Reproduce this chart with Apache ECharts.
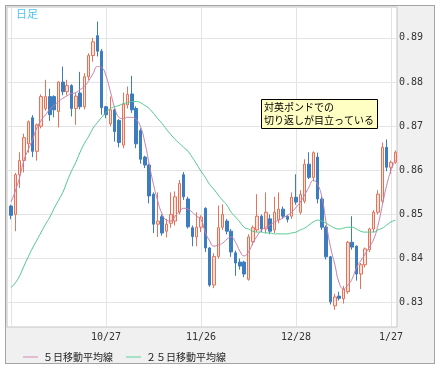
<!DOCTYPE html>
<html>
<head>
<meta charset="utf-8">
<script src="https://cdn.jsdelivr.net/npm/echarts@6/dist/echarts.min.js"></script>
<style>
html,body{margin:0;padding:0;background:#fff;}
#wrap{position:relative;width:446px;height:374px;}
#frame{position:absolute;left:4.5px;top:4.5px;width:428px;height:357px;background:#f0f0f0;border:1.5px solid #a3a3a3;}
#chart{position:absolute;left:0;top:0;width:446px;height:374px;}
</style>
</head>
<body>
<div id="wrap"><div id="frame"></div><div id="chart"></div></div>
<script>
const dates = ["9/25","9/28","9/29","9/30","10/1","10/2","10/5","10/6","10/7","10/8","10/9","10/12","10/13","10/14","10/15","10/16","10/19","10/20","10/21","10/22","10/23","10/26","10/27","10/28","10/29","10/30","11/2","11/3","11/4","11/5","11/6","11/9","11/10","11/11","11/12","11/13","11/16","11/17","11/18","11/19","11/20","11/23","11/24","11/25","11/26","11/27","11/30","12/1","12/2","12/3","12/4","12/7","12/8","12/9","12/10","12/11","12/14","12/15","12/16","12/17","12/18","12/21","12/22","12/23","12/24","12/25","12/28","12/29","12/30","12/31","1/1","1/4","1/5","1/6","1/7","1/8","1/11","1/12","1/13","1/14","1/15","1/18","1/19","1/20","1/21","1/22","1/25","1/26","1/27","1/28"];
const gridDates = ["9/25","10/27","11/26","12/28","1/27"];
const labelDates = ["10/27","11/26","12/28","1/27"];
const yTicks = [0.83,0.84,0.85,0.86,0.87,0.88,0.89];

const open = [0.8519,0.8500,0.8590,0.8622,0.8660,0.8719,0.8643,0.8700,0.8740,0.8767,
0.8767,0.8733,0.8800,0.8778,0.8792,0.8740,0.8775,0.8744,0.8812,0.8860,
0.8905,0.8870,0.8744,0.8705,0.8737,0.8713,0.8657,0.8748,0.8773,0.8740,
0.8690,0.8630,0.8612,0.8546,0.8478,0.8495,0.8462,0.8480,0.8485,0.8505,
0.8590,0.8535,0.8470,0.8449,0.8471,0.8514,0.8424,0.8340,0.8405,0.8471,
0.8485,0.8462,0.8413,0.8392,0.8392,0.8353,0.8438,0.8465,0.8496,0.8467,
0.8490,0.8465,0.8488,0.8512,0.8496,0.8496,0.8539,0.8505,0.8530,0.8614,
0.8584,0.8630,0.8535,0.8471,0.8404,0.8293,0.8315,0.8309,0.8325,0.8437,
0.8428,0.8365,0.8386,0.8420,0.8467,0.8505,0.8530,0.8652,0.8607,0.8618];
const close = [0.8498,0.8590,0.8622,0.8674,0.8710,0.8643,0.8703,0.8767,0.8767,0.8726,
0.8737,0.8800,0.8778,0.8792,0.8740,0.8768,0.8744,0.8812,0.8860,0.8891,
0.8870,0.8742,0.8726,0.8737,0.8688,0.8663,0.8750,0.8772,0.8737,0.8660,
0.8625,0.8612,0.8542,0.8478,0.8485,0.8458,0.8478,0.8500,0.8540,0.8570,
0.8540,0.8472,0.8450,0.8471,0.8494,0.8424,0.8340,0.8405,0.8470,0.8500,
0.8462,0.8415,0.8390,0.8383,0.8365,0.8449,0.8470,0.8496,0.8467,0.8505,
0.8462,0.8505,0.8512,0.8496,0.8489,0.8539,0.8528,0.8545,0.8614,0.8584,
0.8640,0.8535,0.8471,0.8404,0.8302,0.8313,0.8310,0.8331,0.8437,0.8426,
0.8365,0.8386,0.8422,0.8467,0.8505,0.8546,0.8652,0.8607,0.8618,0.8641];
const low = [0.8489,0.8462,0.8560,0.8595,0.8640,0.8630,0.8622,0.8695,0.8735,0.8712,
0.8720,0.8697,0.8770,0.8770,0.8722,0.8703,0.8738,0.8738,0.8805,0.8846,
0.8858,0.8726,0.8718,0.8700,0.8665,0.8652,0.8650,0.8740,0.8730,0.8650,
0.8615,0.8605,0.8525,0.8458,0.8449,0.8452,0.8448,0.8470,0.8475,0.8500,
0.8533,0.8468,0.8428,0.8428,0.8460,0.8415,0.8336,0.8333,0.8400,0.8465,
0.8455,0.8404,0.8361,0.8375,0.8358,0.8350,0.8430,0.8460,0.8460,0.8458,
0.8455,0.8458,0.8480,0.8490,0.8482,0.8490,0.8522,0.8500,0.8525,0.8580,
0.8575,0.8525,0.8465,0.8398,0.8296,0.8284,0.8305,0.8298,0.8320,0.8420,
0.8350,0.8331,0.8380,0.8415,0.8460,0.8500,0.8525,0.8598,0.8592,0.8615];
const high = [0.8522,0.8594,0.8641,0.8683,0.8713,0.8725,0.8706,0.8772,0.8805,0.8785,
0.8770,0.8802,0.8835,0.8805,0.8795,0.8775,0.8823,0.8820,0.8865,0.8900,
0.8937,0.8875,0.8746,0.8767,0.8740,0.8716,0.8776,0.8790,0.8814,0.8745,
0.8695,0.8633,0.8615,0.8550,0.8550,0.8500,0.8490,0.8550,0.8552,0.8578,
0.8596,0.8540,0.8475,0.8505,0.8498,0.8516,0.8426,0.8412,0.8520,0.8523,
0.8490,0.8467,0.8418,0.8400,0.8395,0.8455,0.8475,0.8546,0.8500,0.8550,
0.8500,0.8540,0.8550,0.8518,0.8498,0.8550,0.8591,0.8555,0.8625,0.8641,
0.8643,0.8640,0.8540,0.8475,0.8406,0.8320,0.8325,0.8338,0.8440,0.8496,
0.8430,0.8390,0.8425,0.8470,0.8510,0.8555,0.8663,0.8670,0.8622,0.8645];
const ma5 = [0.8528,0.8553,0.8584,0.8623,0.8647,0.8670,0.8697,0.8713,0.8726,0.8738,
0.8747,0.8756,0.8763,0.8769,0.8774,0.8776,0.8783,0.8790,0.8803,0.8819,
0.8835,0.8833,0.8814,0.8779,0.8742,0.8720,0.8717,0.8720,0.8720,0.8715,
0.8699,0.8663,0.8614,0.8568,0.8530,0.8501,0.8487,0.8485,0.8496,0.8507,
0.8514,0.8512,0.8505,0.8496,0.8489,0.8460,0.8440,0.8428,0.8431,0.8435,
0.8444,0.8449,0.8437,0.8417,0.8406,0.8415,0.8435,0.8451,0.8465,0.8471,
0.8476,0.8483,0.8487,0.8492,0.8498,0.8505,0.8516,0.8528,0.8544,0.8562,
0.8577,0.8568,0.8539,0.8480,0.8426,0.8386,0.8345,0.8331,0.8340,0.8354,
0.8379,0.8395,0.8410,0.8426,0.8444,0.8476,0.8521,0.8566,0.8600,0.8623];
const ma25 = [0.8334,0.8345,0.8361,0.8383,0.8404,0.8424,0.8442,0.8460,0.8478,0.8494,
0.8514,0.8532,0.8550,0.8575,0.8598,0.8618,0.8641,0.8661,0.8677,0.8695,
0.8708,0.8720,0.8731,0.8740,0.8744,0.8747,0.8751,0.8753,0.8756,0.8756,
0.8753,0.8747,0.8740,0.8729,0.8717,0.8706,0.8693,0.8681,0.8670,0.8661,
0.8652,0.8643,0.8629,0.8614,0.8598,0.8584,0.8568,0.8557,0.8544,0.8532,
0.8521,0.8505,0.8494,0.8483,0.8471,0.8467,0.8462,0.8460,0.8460,0.8458,
0.8458,0.8456,0.8456,0.8456,0.8456,0.8458,0.8460,0.8465,0.8469,0.8476,
0.8483,0.8487,0.8485,0.8480,0.8474,0.8469,0.8467,0.8469,0.8471,0.8471,
0.8467,0.8462,0.8460,0.8460,0.8460,0.8465,0.8469,0.8476,0.8483,0.8487];

const candleData = dates.map((d, i) => [i, open[i], close[i], low[i], high[i]]);
const ma5Data = dates.map((d, i) => [i, ma5[i]]);
const ma25Data = dates.map((d, i) => [i, ma25[i]]);
const gridIdx = gridDates.map(d => dates.indexOf(d));
const labelIdx = labelDates.map(d => dates.indexOf(d));

const chart = echarts.init(document.getElementById('chart'), null, {renderer: 'canvas'});
const monoFont = '"DejaVu Sans Mono", monospace';
const jpFont = '"Noto Sans CJK JP", sans-serif';

chart.setOption({
  backgroundColor: 'transparent',
  animation: false,
  grid: {left: 7, top: 7, width: 390, height: 320, show: true, backgroundColor: '#ffffff', borderColor: '#c4c4c4', borderWidth: 1},
  xAxis: {
    type: 'value', min: -0.926, max: 89.39,
    axisLine: {show: false},
    axisTick: {show: false, customValues: gridIdx},
    splitLine: {show: true, lineStyle: {color: '#e4e4e4', width: 1}},
    axisLabel: {
      customValues: labelIdx, margin: 5,
      fontFamily: monoFont, fontSize: 10, color: '#333',
      formatter: function (v) { return dates[Math.round(v)]; }
    }
  },
  yAxis: {
    type: 'value', position: 'right', min: 0.8245, max: 0.897,
    axisLine: {show: false},
    axisTick: {show: false, customValues: yTicks},
    splitLine: {show: true, lineStyle: {color: '#e4e4e4', width: 1}},
    axisLabel: {
      customValues: yTicks, margin: 2,
      fontFamily: monoFont, fontSize: 10, color: '#333',
      formatter: function (v) { return v.toFixed(2); }
    }
  },
  legend: {
    left: 18, top: 347, itemWidth: 15, itemHeight: 1, itemGap: 13, icon: 'rect',
    textStyle: {fontFamily: jpFont, fontSize: 10, color: '#222'},
    data: ['５日移動平均線', '２５日移動平均線']
  },
  graphic: [
    {type: 'text', left: 16, top: 8, style: {text: '日足', font: '11px "Noto Sans CJK JP"', fill: '#4cc4f2'}},
    {type: 'rect', shape: {x: 261.5, y: 99.5, width: 116, height: 29}, style: {fill: '#ffffc4', stroke: '#000', lineWidth: 1}, z: 100},
    {type: 'text', x: 264, y: 101, style: {text: '対英ポンドでの\n切り返しが目立っている', font: '10px "Noto Sans CJK JP"', fill: '#000', lineHeight: 13}, z: 101}
  ],
  series: [
    {
      type: 'candlestick', name: '日足', data: candleData, barWidth: 3,
      itemStyle: {color: '#fbe0d6', color0: '#3b7dbf', borderColor: '#e4735a', borderColor0: '#3b7dbf', borderWidth: 1},
      z: 2
    },
    {
      type: 'line', name: '５日移動平均線', data: ma5Data, smooth: true, symbol: 'none',
      color: '#d08ab4', lineStyle: {width: 1, color: '#c580ad'}, z: 3
    },
    {
      type: 'line', name: '２５日移動平均線', data: ma25Data, smooth: true, symbol: 'none',
      color: '#5ad49a', lineStyle: {width: 1, color: '#4ec98c'}, z: 3
    }
  ]
});
</script>
</body>
</html>
